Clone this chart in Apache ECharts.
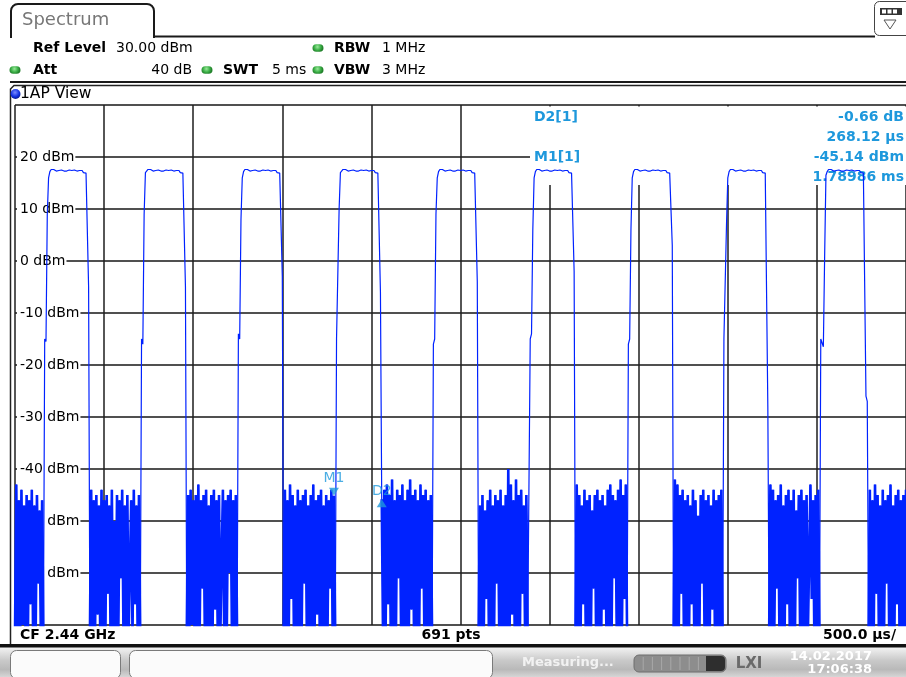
<!DOCTYPE html>
<html>
<head>
<meta charset="utf-8">
<script src="https://cdn.jsdelivr.net/npm/echarts@6/dist/echarts.min.js"></script>
<style>
  html, body { margin: 0; padding: 0; background: #fff; }
  #chart { width: 906px; height: 677px; }
</style>
</head>
<body>
<div id="chart"></div>
<script>
// Zero-span sweep: 691 points over 5 ms, reference level 30 dBm, 10 dB/div
const sweepTimeUs = 5000;
const sweepPoints = 691;
const refLevelDbm = 30;
const bottomLevelDbm = -70;
const dbPerDiv = 10;
const usPerDiv = 500;
const yTickLabels = [20, 10, 0, -10, -20, -30, -40, -50, -60];

// Flat top of a burst (dBm per sample), same shape for every burst
const pulseTop = [17.2, 17.6, 17.7, 17.6, 17.5, 17.3, 17.2, 17.4, 17.5, 17.5,
                  17.5, 17.3, 17.1, 17.3, 17.5, 17.5, 17.5, 17.4, 17.4, 17.5,
                  17.5, 17.3, 17.1, 17.4, 17.6, 17.4, 17.0, 16.8, 16.9, 16.9];

// Rising-edge samples of each burst (dBm)
const pulseRise = [
  [-15, -15.5, 9, 16],
  [-15, -16, 9, 17],
  [-14, -15, 8, 16],
  [-15, -15, 10, 17],
  [-16, -15, 9, 16],
  [-15, -14, 6, 16],
  [-16, -15, 6, 16],
  [-15, -15, 7, 16],
  [-15, -15, -16.5, 1, 16.5]
];

// Falling-edge samples of each burst (dBm)
const pulseFall = [[-5], [-5], [-3], [-6], [-4], [-2], [3], [-28], [-26, -27]];

// Noise floor between bursts (dBm per sample, peaks and dips)
const noiseBursts = [
  [-72,-43,-72,-46,-72,-44,-70,-47,-72,-45,-72,-46,-66,-44,-72,-47,-72,-45,-62,-48,-72,-46,-72],
  [-72,-44,-72,-46,-72,-45,-68,-47,-72,-44,-72,-46,-72,-45,-64,-47,-72,-44,-72,-50,
   -72,-45,-72,-46,-61,-44,-72,-47,-72,-45,-72,-72,-46,-72,-44,-66,-47,-72,-45,-72],
  [-72,-45,-72,-44,-70,-46,-72,-45,-72,-43,-72,-46,-63,-45,-72,-44,-72,-47,-72,-45,
   -72,-44,-67,-46,-72,-45,-72,-72,-44,-72,-46,-72,-45,-60,-44,-72,-46,-72,-45,-72],
  [-72,-44,-72,-46,-72,-43,-65,-45,-72,-47,-72,-44,-72,-46,-72,-45,-62,-44,-72,-47,
   -72,-45,-72,-43,-72,-46,-68,-45,-72,-44,-72,-47,-72,-45,-72,-46,-63,-44,-72,-45.14,-72],
  [-45.8,-72,-44,-72,-43,-66,-45,-72,-42,-72,-46,-72,-44,-61,-45,-72,-43,-72,-46,-72,
   -44,-72,-42,-67,-45,-72,-44,-72,-46,-72,-43,-63,-45,-72,-44,-72,-46,-72,-45,-72],
  [-72,-47,-72,-45,-72,-48,-65,-46,-72,-44,-72,-47,-72,-45,-62,-46,-72,-44,-72,-47,
   -72,-45,-72,-40,-72,-43,-68,-46,-72,-42,-72,-45,-72,-44,-64,-47,-72,-45,-72,-72],
  [-72,-43,-72,-45,-72,-47,-66,-44,-72,-46,-72,-45,-72,-48,-63,-45,-72,-44,-72,-46,
   -72,-45,-67,-47,-72,-44,-72,-43,-72,-45,-61,-46,-72,-44,-72,-42,-72,-45,-65,-43,-72],
  [-72,-42,-72,-43,-72,-45,-64,-44,-72,-46,-72,-45,-72,-47,-66,-44,-72,-46,-72,-49,
   -72,-45,-62,-44,-72,-46,-72,-45,-72,-47,-67,-44,-72,-46,-72,-45,-72,-44,-72],
  [-72,-43,-72,-44,-72,-46,-63,-45,-72,-43,-72,-47,-72,-45,-66,-44,-72,-46,-72,-44,
   -72,-48,-61,-45,-72,-44,-72,-46,-72,-45,-72,-72,-43,-65,-46,-72,-45,-72,-44,-72],
  [-72,-44,-72,-46,-72,-43,-64,-45,-72,-47,-72,-44,-72,-46,-62,-45,-72,-43,-72,-47,
   -72,-45,-66,-44,-72,-46,-72,-45,-72,-44]
];

// Marker M1 and delta marker D2 (relative to M1)
const marker1 = { name: 'M1', timeUs: 1789.86, levelDbm: -45.14 };
const delta2 = { name: 'D2', dtUs: 268.12, dDb: -0.66 };

// Assemble the sweep: noise, burst, noise, burst, ...
const trace = [];
const isNoise = [];
noiseBursts.forEach((burst, k) => {
  burst.forEach(v => { trace.push(v); isNoise.push(true); });
  if (k < pulseRise.length) {
    [pulseRise[k], pulseTop, pulseFall[k]].forEach(part =>
      part.forEach(v => { trace.push(v); isNoise.push(false); }));
  }
});
const dtUs = sweepTimeUs / (sweepPoints - 1);
const traceData = trace.map((v, i) => [i * dtUs, v]);
// the dense noise stretches are stroked wider so the detector envelope reads as a band
const noiseData = trace.map((v, i) => [i * dtUs, isNoise[i] ? v : null]);

const d2Time = marker1.timeUs + delta2.dtUs;
const d2Level = marker1.levelDbm + delta2.dDb;

const FONT = '"DejaVu Sans", Verdana, sans-serif';
const MK = '#1e98dc';
const TRACE = '#0022ff';

function radial(stops) {
  return { type: 'radial', x: 0.45, y: 0.35, r: 0.7, global: false,
           colorStops: stops.map(s => ({ offset: s[0], color: s[1] })) };
}
function linearV(stops) {
  return { type: 'linear', x: 0, y: 0, x2: 0, y2: 1, global: false,
           colorStops: stops.map(s => ({ offset: s[0], color: s[1] })) };
}

function txt(x, y, text, opts) {
  opts = opts || {};
  const align = opts.align || 'left';
  return {
    type: 'text', x: x, y: y, z: opts.z || 5, silent: true,
    style: {
      text: text,
      fill: opts.color || '#000',
      font: (opts.weight || 'normal') + ' ' + (opts.size || 14) + 'px ' + FONT,
      textAlign: align, align: align,
      textVerticalAlign: 'middle', verticalAlign: 'middle'
    }
  };
}

function led(cx, cy) {
  return {
    type: 'rect', z: 5, silent: true,
    shape: { x: cx - 5.5, y: cy - 3.8, width: 11, height: 7.6, r: 3.8 },
    style: { fill: radial([[0, '#9be89b'], [0.6, '#3fb34a'], [1, '#23822c']]) }
  };
}

const graphics = [
  // tab header
  { type: 'rect', z: 5, silent: true, shape: { x: 11, y: 4, width: 143, height: 33, r: [7, 7, 0, 0] },
    style: { fill: '#fff', stroke: '#1a1a1a', lineWidth: 2 } },
  { type: 'line', z: 6, silent: true, shape: { x1: 12, y1: 37, x2: 153, y2: 37 },
    style: { stroke: '#fff', lineWidth: 2 } },
  { type: 'line', z: 5, silent: true, shape: { x1: 153, y1: 36.5, x2: 875, y2: 36.5 },
    style: { stroke: '#1a1a1a', lineWidth: 2 } },
  txt(22, 20, 'Spectrum', { size: 18, color: '#777' }),
  // menu icon box top right
  { type: 'rect', z: 5, silent: true, shape: { x: 874.5, y: 1.5, width: 40, height: 34, r: 5 },
    style: { fill: '#fff', stroke: '#444', lineWidth: 1 } },
  { type: 'rect', z: 6, silent: true, shape: { x: 880, y: 8, width: 22, height: 7 },
    style: { fill: '#333' } },
  { type: 'rect', z: 7, silent: true, shape: { x: 882, y: 9.5, width: 4, height: 4 }, style: { fill: '#fff' } },
  { type: 'rect', z: 7, silent: true, shape: { x: 887.5, y: 9.5, width: 4, height: 4 }, style: { fill: '#fff' } },
  { type: 'rect', z: 7, silent: true, shape: { x: 893, y: 9.5, width: 4, height: 4 }, style: { fill: '#fff' } },
  { type: 'polygon', z: 6, silent: true, shape: { points: [[884, 20], [896, 20], [890, 29]] },
    style: { fill: '#fff', stroke: '#555', lineWidth: 1 } },

  // settings rows
  txt(33, 48, 'Ref Level', { weight: 'bold' }),
  txt(116, 48, '30.00 dBm'),
  led(318, 48),
  txt(334, 48, 'RBW', { weight: 'bold' }),
  txt(382, 48, '1 MHz'),
  led(15, 70),
  txt(33, 70, 'Att', { weight: 'bold' }),
  txt(192, 70, '40 dB', { align: 'right' }),
  led(207, 70),
  txt(223, 70, 'SWT', { weight: 'bold' }),
  txt(272, 70, '5 ms'),
  led(318, 70),
  txt(334, 70, 'VBW', { weight: 'bold' }),
  txt(382, 70, '3 MHz'),
  { type: 'line', z: 5, silent: true, shape: { x1: 10, y1: 82, x2: 906, y2: 82 },
    style: { stroke: '#1a1a1a', lineWidth: 2 } },

  // window frame
  { type: 'polyline', z: 5, silent: true,
    shape: { points: [[10.5, 646], [10.5, 89], [14, 85.5], [906, 85.5]] },
    style: { fill: null, stroke: '#222', lineWidth: 1.5 } },
  { type: 'circle', z: 5, silent: true, shape: { cx: 15.5, cy: 94, r: 5 },
    style: { fill: radial([[0, '#7a8cff'], [0.6, '#1030e0'], [1, '#06157a']]) } },
  txt(20, 94, '1AP View', { size: 15.5 }),

  // marker readout area (covers the grid, below the trace)
  { type: 'rect', z: 1, silent: true, shape: { x: 530, y: 106.5, width: 376, height: 78.5 },
    style: { fill: '#fff' } },
  txt(534, 117, delta2.name + '[1]', { weight: 'bold', color: MK, z: 1 }),
  txt(904, 117, delta2.dDb.toFixed(2) + ' dB', { weight: 'bold', color: MK, align: 'right', z: 1 }),
  txt(904, 137, delta2.dtUs.toFixed(2) + ' µs', { weight: 'bold', color: MK, align: 'right', z: 1 }),
  txt(534, 157, marker1.name + '[1]', { weight: 'bold', color: MK, z: 1 }),
  txt(904, 157, marker1.levelDbm.toFixed(2) + ' dBm', { weight: 'bold', color: MK, align: 'right', z: 1 }),
  txt(904, 177, (marker1.timeUs / 1000).toFixed(5) + ' ms', { weight: 'bold', color: MK, align: 'right', z: 1 }),

  // footer of the diagram
  txt(20, 635, 'CF 2.44 GHz', { weight: 'bold' }),
  txt(451, 635, sweepPoints + ' pts', { weight: 'bold', align: 'center' }),
  txt(896, 635, usPerDiv.toFixed(1) + ' µs/', { weight: 'bold', align: 'right' }),
  { type: 'rect', z: 5, silent: true, shape: { x: 0, y: 644, width: 906, height: 3.5 },
    style: { fill: '#111' } },

  // status bar
  { type: 'rect', z: 4, silent: true, shape: { x: 0, y: 647, width: 906, height: 30 },
    style: { fill: linearV([[0, '#f4f4f4'], [0.45, '#c9c9c9'], [0.75, '#b9b9b9'], [1, '#d6d6d6']]) } },
  { type: 'rect', z: 5, silent: true, shape: { x: 10.5, y: 650.5, width: 110, height: 28, r: 6 },
    style: { fill: '#fbfbfb', stroke: '#7a7a7a', lineWidth: 1 } },
  { type: 'rect', z: 5, silent: true, shape: { x: 129.5, y: 650.5, width: 363, height: 28, r: 6 },
    style: { fill: '#fbfbfb', stroke: '#7a7a7a', lineWidth: 1 } },
  txt(522, 663, 'Measuring...', { weight: 'bold', color: '#f2f2f2', size: 13 }),
  { type: 'rect', z: 5, silent: true, shape: { x: 634, y: 655, width: 92, height: 17, r: 5 },
    style: { fill: '#8d8d8d', stroke: '#6f6f6f', lineWidth: 1 } },
  { type: 'rect', z: 6, silent: true, shape: { x: 706, y: 656, width: 19, height: 15, r: [0, 4, 4, 0] },
    style: { fill: '#2e2e2e' } },
  txt(749, 664, 'LXI', { weight: 'bold', color: '#6a6a6a', size: 15, align: 'center' }),
  txt(872, 657, '14.02.2017', { weight: 'bold', color: '#ffffff', size: 13, align: 'right' }),
  txt(872, 670, '17:06:38', { weight: 'bold', color: '#ffffff', size: 13, align: 'right' })
];

// separators of the progress indicator
for (let k = 1; k < 8; k++) {
  graphics.push({ type: 'line', z: 6, silent: true,
    shape: { x1: 634 + k * 9.2, y1: 657, x2: 634 + k * 9.2, y2: 670 },
    style: { stroke: '#a8a8a8', lineWidth: 1 } });
}

const chart = echarts.init(document.getElementById('chart'), null, { renderer: 'canvas' });
chart.setOption({
  animation: false,
  backgroundColor: '#ffffff',
  grid: { left: 15, right: 0, top: 105, bottom: 52, containLabel: false },
  xAxis: {
    type: 'value', min: 0, max: sweepTimeUs, interval: usPerDiv,
    axisLine: { show: false }, axisTick: { show: false }, axisLabel: { show: false },
    splitLine: { show: true, lineStyle: { color: '#1e1e1e', width: 1.5 } }
  },
  yAxis: [
    {
      type: 'value', min: bottomLevelDbm, max: refLevelDbm, interval: dbPerDiv,
      axisLine: { show: false }, axisTick: { show: false }, axisLabel: { show: false },
      splitLine: { show: true, lineStyle: { color: '#505050', width: 2 } }
    },
    {
      type: 'value', min: bottomLevelDbm, max: refLevelDbm, interval: dbPerDiv, z: 1,
      position: 'left',
      axisLine: { show: false }, axisTick: { show: false }, splitLine: { show: false },
      axisLabel: {
        show: true, inside: true, margin: 2, align: 'left',
        showMinLabel: false, showMaxLabel: false,
        padding: [1, 1, 1, 3], backgroundColor: '#ffffff',
        color: '#000', fontSize: 14, fontFamily: FONT,
        formatter: v => yTickLabels.indexOf(v) >= 0 ? v + ' dBm' : ''
      }
    }
  ],
  series: [
    {
      name: 'Trace 1', type: 'line', data: traceData, yAxisIndex: 0,
      showSymbol: false, symbol: 'none', z: 2, silent: true, clip: true,
      lineStyle: { color: TRACE, width: 1.2 }
    },
    {
      name: 'Trace 1 noise', type: 'line', data: noiseData, yAxisIndex: 0,
      showSymbol: false, symbol: 'none', z: 2, silent: true, clip: true, connectNulls: false,
      lineStyle: { color: TRACE, width: 2.6, join: 'miter', miterLimit: 2 }
    },
    {
      type: 'scatter', yAxisIndex: 0, z: 3, silent: true,
      data: [[marker1.timeUs, marker1.levelDbm]],
      symbol: 'triangle', symbolRotate: 180, symbolSize: [10, 8], symbolOffset: [0, -4],
      itemStyle: { color: MK },
      label: { show: true, position: 'top', distance: 2, formatter: marker1.name,
               color: MK, fontSize: 14, fontFamily: FONT }
    },
    {
      type: 'scatter', yAxisIndex: 0, z: 3, silent: true,
      data: [[d2Time, d2Level]],
      symbol: 'triangle', symbolSize: [10, 8], symbolOffset: [0, 4],
      itemStyle: { color: MK },
      label: { show: true, position: 'top', distance: 1, formatter: delta2.name,
               color: MK, fontSize: 14, fontFamily: FONT }
    }
  ],
  graphic: graphics
});
</script>
</body>
</html>
